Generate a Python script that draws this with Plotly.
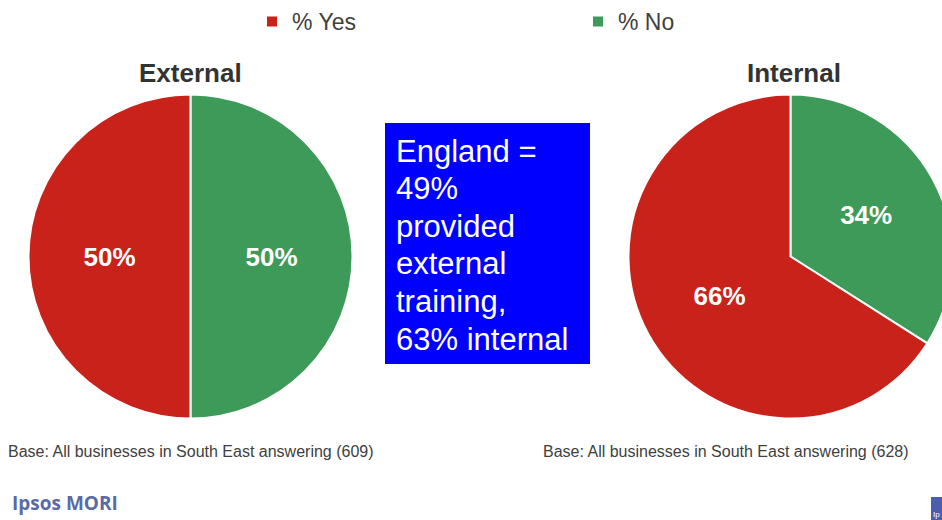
import plotly.graph_objects as go

# Survey results: share of businesses providing training
categories = ["% No", "% Yes"]
external_values = [50, 50]
internal_values = [34, 66]
colors = ["#3D9A58", "#C9221A"]

panel_titles = ["External", "Internal"]
base_notes = [
    "Base: All businesses in South East answering (609)",
    "Base: All businesses in South East answering (628)",
]
callout_lines = ["England =", "49%", "provided", "external", "training,", "63% internal"]

W, H = 960, 520  # canvas is a little wider than the view so the right pie is cut off


def px(x):
    return x / W


def py(y):
    return 1 - y / H


fig = go.Figure()

pie_style = dict(
    marker=dict(colors=colors, line=dict(color="white", width=2)),
    sort=False,
    direction="clockwise",
    rotation=0,
    textposition="inside",
    texttemplate="%{value}%",
    insidetextfont=dict(family="Liberation Sans, Arial", size=26, color="white", weight="bold"),
    hoverinfo="label+value",
)

fig.add_trace(go.Pie(
    labels=categories, values=external_values, name="External",
    domain=dict(x=[px(28.5), px(352.5)], y=[py(418.5), py(94.5)]),
    **pie_style,
))
fig.add_trace(go.Pie(
    labels=categories, values=internal_values, name="Internal",
    domain=dict(x=[px(628.5), px(952.5)], y=[py(418.5), py(94.5)]),
    showlegend=False,
    **pie_style,
))

annotations = []
# panel titles
for title, cx in zip(panel_titles, [190, 794]):
    annotations.append(dict(
        text=title, x=px(cx), y=py(73), xref="paper", yref="paper",
        xanchor="center", yanchor="middle", showarrow=False,
        font=dict(family="Liberation Sans, Arial", size=26, color="#333333", weight="bold"),
    ))
# base notes
for note, lx in zip(base_notes, [8, 543]):
    annotations.append(dict(
        text=note, x=px(lx), y=py(451), xref="paper", yref="paper",
        xanchor="left", yanchor="middle", showarrow=False, xshift=-2,
        font=dict(family="Liberation Sans, Arial", size=16, color="#404040"),
    ))
# callout text lines
for i, line in enumerate(callout_lines):
    annotations.append(dict(
        text=line, x=px(396), y=py(151 + 37.6 * i), xref="paper", yref="paper",
        xanchor="left", yanchor="middle", showarrow=False, xshift=-2,
        font=dict(family="Liberation Sans, Arial", size=31, color="white"),
    ))
# logo text
annotations.append(dict(
    text="Ipsos MORI", x=px(12), y=py(503), xref="paper", yref="paper",
    xanchor="left", yanchor="middle", showarrow=False, xshift=-2,
    font=dict(family="Open Sans", size=19, color="#5A6AA6", weight="bold"),
))
annotations.append(dict(
    text="Ip", x=px(933), y=py(514), xref="paper", yref="paper",
    xanchor="left", yanchor="middle", showarrow=False, xshift=-2,
    font=dict(family="Liberation Sans, Arial", size=8, color="white"),
))

shapes = [
    dict(type="rect", xref="paper", yref="paper",
         x0=px(385), x1=px(590), y0=py(364), y1=py(123),
         fillcolor="#0000FF", line=dict(width=0), layer="below"),
    dict(type="rect", xref="paper", yref="paper",
         x0=px(931), x1=px(948), y0=py(520), y1=py(497),
         fillcolor="#4A5DAE", line=dict(width=0), layer="below"),
]

fig.update_layout(
    width=W, height=H,
    margin=dict(l=0, r=0, t=0, b=0),
    paper_bgcolor="white", plot_bgcolor="white",
    font=dict(family="Liberation Sans, Arial", color="#404040"),
    showlegend=True,
    legend=dict(
        orientation="h", x=px(252), y=1, xanchor="left", yanchor="top",
        font=dict(size=23, color="#404040"),
        entrywidth=281, itemclick=False,
        traceorder="reversed",
    ),
    annotations=annotations,
    shapes=shapes,
)

fig.write_html(
    "out.html",
    post_script="document.documentElement.style.overflow='hidden';document.body.style.overflow='hidden';",
)
